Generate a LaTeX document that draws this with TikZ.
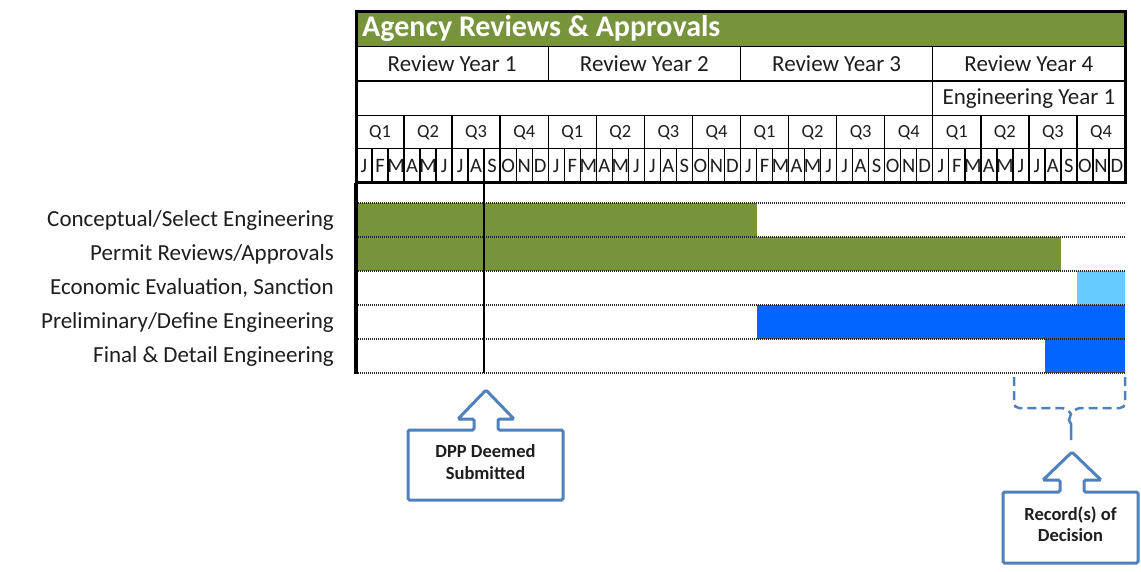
\documentclass[tikz,border=0pt]{standalone}
\usepackage{fontspec}
\setmainfont{Carlito}
\definecolor{olivebar}{HTML}{77933C}
\definecolor{bluebar}{HTML}{0066FF}
\definecolor{skybar}{HTML}{66CCFF}
\definecolor{calloutblue}{HTML}{4F81BD}
\definecolor{inktext}{HTML}{1E1E1E}
\begin{document}
\begin{tikzpicture}[x=1pt,y=-1pt,
  gridline/.style={line width=1.4pt,black},
  frame/.style={line width=3pt,black},
  rowrule/.style={line width=1.8pt,black!85,dash pattern=on 1pt off 1pt},
  yearlabel/.style={font=\fontsize{23}{23}\selectfont,text=inktext,inner sep=0pt},
  qlabel/.style={font=\fontsize{18.5}{18.5}\selectfont,text=inktext,inner sep=0pt},
  mlabel/.style={font=\fontsize{20.5}{20.5}\selectfont,text=inktext,inner sep=0pt},
  tasklabel/.style={font=\fontsize{23}{23}\selectfont,text=inktext,anchor=east,inner sep=0pt},
  callout/.style={line width=3pt,calloutblue,rounded corners=1.5pt,fill=white},
  callouttext/.style={font=\bfseries\fontsize{18.5}{21.5}\selectfont,text=inktext,align=center,inner sep=0pt}]
\useasboundingbox (0,0) rectangle (1141,571);
\fill[white] (0,0) rectangle (1141,571);

% chart extent: 48 months between x=356 and x=1125
\def\xl{356}\def\xr{1125}
\pgfmathsetmacro\mw{(1125-356)/48}

% ---------- header ----------
\fill[olivebar] (\xl,12) rectangle (\xr,46.5);
\node[anchor=west,inner sep=0pt,text=white,font=\bfseries\fontsize{30}{30}\selectfont] (title) at (362,28.5) {Agency Reviews \& Approvals};

% horizontal rules
\foreach \yy in {46.5,81,115.5,148.5}
  \draw[gridline] (\xl,\yy) -- (\xr,\yy);
% year dividers
\foreach \k in {1,2,3}
  \draw[gridline] ({\xl+\k*12*\mw},46.5) -- ({\xl+\k*12*\mw},81);
\draw[gridline] ({\xl+36*\mw},81) -- ({\xl+36*\mw},115.5);
% quarter dividers
\foreach \k in {1,...,15}
  \draw[gridline] ({\xl+\k*3*\mw},115.5) -- ({\xl+\k*3*\mw},148.5);

% year labels
\foreach \k in {1,...,4}
  \node[yearlabel] (ry\k) at ({\xl+(\k-0.5)*12*\mw},64) {Review Year \k};
\node[yearlabel] (ey1) at ({\xl+42*\mw},98.5) {Engineering Year 1};

% quarter labels
\foreach \k in {0,...,15}{
  \pgfmathtruncatemacro\q{mod(\k,4)+1}
  \node[qlabel] (q\k) at ({\xl+(\k+0.5)*3*\mw},132.5) {Q\q};
}
% month initials
\foreach \k in {0,...,47}{
  \pgfmathtruncatemacro\m{mod(\k,12)}
  \ifcase\m \def\ml{J}\or \def\ml{F}\or \def\ml{M}\or \def\ml{A}\or \def\ml{M}\or \def\ml{J}\or
    \def\ml{J}\or \def\ml{A}\or \def\ml{S}\or \def\ml{O}\or \def\ml{N}\or \def\ml{D}\fi
  \node[mlabel] (m\k) at ({\xl+(\k+0.5)*\mw},166) {\ml};
}
% month dividers, drawn over the crowded initials
\foreach \k in {1,...,47}
  \draw[gridline] ({\xl+\k*\mw},148.5) -- ({\xl+\k*\mw},182.5);

% outer frame of the header
\draw[frame] (\xl,11) rectangle (\xr,182.5);

% ---------- task bars ----------
\fill[olivebar] (\xl,203) rectangle ({\xl+25*\mw},237);
\fill[olivebar] (\xl,237) rectangle ({\xl+44*\mw},271);
\fill[skybar]   ({\xl+45*\mw},271) rectangle (\xr,305);
\fill[bluebar]  ({\xl+25*\mw},305) rectangle (\xr,339);
\fill[bluebar]  ({\xl+43*\mw},339) rectangle (\xr,373);

\foreach \yy in {203,237,271,305,339,373}
  \draw[rowrule] (\xl,\yy) -- (\xr,\yy);

% milestone line and left axis
\draw[line width=1.6pt,black] ({\xl+8*\mw},182.5) -- ({\xl+8*\mw},373);
\draw[line width=3.5pt,black] (\xl,182.5) -- (\xl,374);

% task names
\node[tasklabel] (t1) at (334,220) {Conceptual/Select Engineering};
\node[tasklabel] (t2) at (334,254) {Permit Reviews/Approvals};
\node[tasklabel] (t3) at (334,288) {Economic Evaluation, Sanction};
\node[tasklabel] (t4) at (334,322) {Preliminary/Define Engineering};
\node[tasklabel] (t5) at (334,356) {Final \& Detail Engineering};

% ---------- callouts ----------
\draw[callout] (408,430) -- (474,430) -- (474,419) -- (458,419) -- (486,390) -- (514,419)
  -- (498,419) -- (498,430) -- (563,430) -- (563,500) -- (408,500) -- cycle;
\node[callouttext] (dpp) at (485.5,462) {DPP Deemed\\Submitted};

% bracket over the final months
\draw[calloutblue,line width=2.5pt,dash pattern=on 9pt off 5pt,rounded corners=5pt]
  (1014,377) -- (1014,408) -- (1066,408) -- (1071,414);
\draw[calloutblue,line width=2.5pt,dash pattern=on 9pt off 5pt,rounded corners=5pt]
  (1125,377) -- (1125,408) -- (1076,408) -- (1071,414);
\draw[calloutblue,line width=2.5pt] (1071,414) -- (1069,420) -- (1071,424) -- (1071,440);

\draw[callout] (1003,492) -- (1060,492) -- (1060,480) -- (1043,480) -- (1072,452) -- (1101,480)
  -- (1084,480) -- (1084,492) -- (1138,492) -- (1138,563) -- (1003,563) -- cycle;
\node[callouttext] (rod) at (1070.5,524) {Record(s) of\\Decision};
\end{tikzpicture}
\end{document}
